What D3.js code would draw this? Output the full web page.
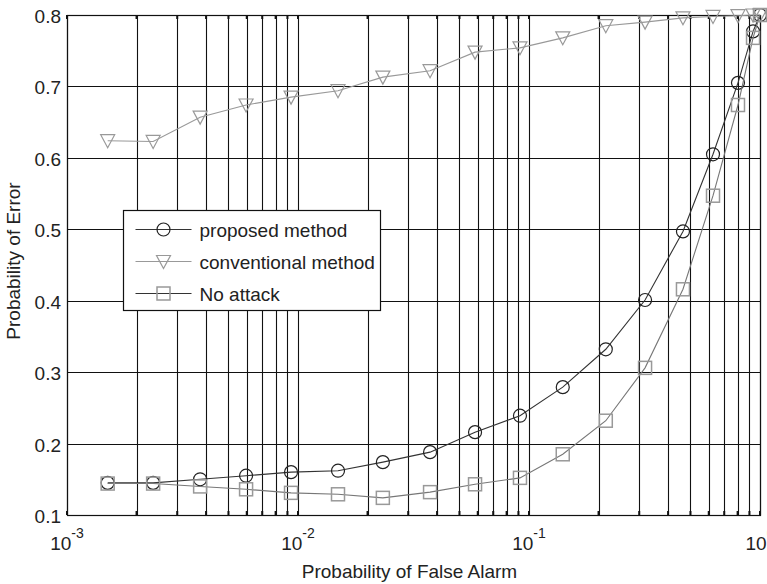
<!DOCTYPE html>
<html>
<head>
<meta charset="utf-8">
<script src="https://cdn.jsdelivr.net/npm/d3@7"></script>
<style>
  body { margin: 0; background: #fff; }
  text { font-family: "Liberation Sans", Arial, sans-serif; fill: #222; }
</style>
</head>
<body>
<div id="chart"></div>
<script>
// Data
var pfa = [0.0015, 0.00236, 0.00377, 0.00596, 0.00933, 0.0149, 0.0233, 0.0373, 0.0584,
           0.0914, 0.140, 0.215, 0.318, 0.464, 0.626, 0.803, 0.933, 1.0];
var proposed = [0.145, 0.145, 0.150, 0.155, 0.160, 0.162, 0.174, 0.188, 0.216,
                0.239, 0.279, 0.332, 0.401, 0.497, 0.605, 0.705, 0.777, 0.800];
var conventional = [0.624, 0.623, 0.657, 0.674, 0.685, 0.694, 0.713, 0.722, 0.748,
                    0.754, 0.768, 0.785, 0.790, 0.796, 0.798, 0.799, 0.800, 0.800];
var noAttack = [0.144, 0.144, 0.140, 0.136, 0.131, 0.129, 0.124, 0.132, 0.143,
                0.152, 0.185, 0.232, 0.306, 0.416, 0.547, 0.674, 0.768, 0.800];
var xDecades = [-3, -2, -1, 0];
var yTicks = [0.1, 0.2, 0.3, 0.4, 0.5, 0.6, 0.7, 0.8];
var seriesNames = ["proposed method", "conventional method", "No attack"];

var W = 767, H = 584;
var margin = { top: 15, right: 7, bottom: 69, left: 67 },
    width = W - margin.left - margin.right,
    height = H - margin.top - margin.bottom;

var svg = d3.select("#chart").append("svg")
    .attr("width", W)
    .attr("height", H);

var g = svg.append("g")
    .attr("transform", "translate(" + margin.left + "," + margin.top + ")");

var x = d3.scaleLog().domain([1e-3, 1]).range([0, width]);
var y = d3.scaleLinear().domain([0.1, 0.8]).range([height, 0]);

// minor + major vertical grid (every 1..9 x decade)
var xGrid = [];
xDecades.slice(0, 3).forEach(function (e) {
    for (var m = 1; m <= 9; m++) xGrid.push(m * Math.pow(10, e));
});
xGrid.push(1);

g.append("g").selectAll("line").data(xGrid).enter().append("line")
    .attr("x1", function (d) { return Math.round(x(d)) + 0.5; })
    .attr("x2", function (d) { return Math.round(x(d)) + 0.5; })
    .attr("y1", 0).attr("y2", height)
    .attr("stroke", "#111").attr("stroke-width", 1.1);

g.append("g").selectAll("line").data(yTicks).enter().append("line")
    .attr("x1", 0).attr("x2", width)
    .attr("y1", function (d) { return Math.round(y(d)) + 0.5; })
    .attr("y2", function (d) { return Math.round(y(d)) + 0.5; })
    .attr("stroke", "#111").attr("stroke-width", 1.1);

// box
g.append("rect")
    .attr("x", 0.5).attr("y", 0.5)
    .attr("width", width).attr("height", height)
    .attr("fill", "none").attr("stroke", "#111").attr("stroke-width", 1.2);

// small inner ticks (MATLAB style)
g.append("g").selectAll("line").data(xGrid).enter().append("line")
    .attr("x1", function (d) { return x(d); }).attr("x2", function (d) { return x(d); })
    .attr("y1", height).attr("y2", height - 4)
    .attr("stroke", "#111").attr("stroke-width", 2);
g.append("g").selectAll("line").data(xGrid).enter().append("line")
    .attr("x1", function (d) { return x(d); }).attr("x2", function (d) { return x(d); })
    .attr("y1", 0).attr("y2", 4)
    .attr("stroke", "#111").attr("stroke-width", 2);

// y tick labels
g.append("g").selectAll("text").data(yTicks).enter().append("text")
    .attr("x", -6)
    .attr("y", function (d) { return y(d) + 8; })
    .attr("text-anchor", "end")
    .attr("font-size", "19px")
    .text(function (d) { return d3.format(".1f")(d); });

// x tick labels 10^e
xDecades.forEach(function (e) {
    var t = g.append("text")
        .attr("x", x(Math.pow(10, e)))
        .attr("y", height + 35)
        .attr("text-anchor", "middle")
        .attr("font-size", "19px");
    t.append("tspan").text("10");
    t.append("tspan").attr("dy", -12).attr("font-size", "14px").text(e === 0 ? "0" : "-" + (-e));
});

// axis titles
svg.append("text")
    .attr("x", margin.left + width / 2 - 4)
    .attr("y", 578)
    .attr("text-anchor", "middle")
    .attr("font-size", "19px")
    .text("Probability of False Alarm");

svg.append("text")
    .attr("transform", "translate(20," + (margin.top + height / 2 - 4) + ") rotate(-90)")
    .attr("text-anchor", "middle")
    .attr("font-size", "19px")
    .text("Probability of Error");

// series
var series = [
    { name: seriesNames[0], values: proposed, line: "#333", mark: "#222", shape: "circle" },
    { name: seriesNames[1], values: conventional, line: "#999", mark: "#999", shape: "triangle" },
    { name: seriesNames[2], values: noAttack, line: "#777", mark: "#999", shape: "square" }
];

function drawMarker(sel, shape, color) {
    if (shape === "circle") {
        sel.append("circle").attr("r", 6.5)
            .attr("fill", "none").attr("stroke", color).attr("stroke-width", 1.2);
    } else if (shape === "triangle") {
        sel.append("path").attr("d", "M-7,-6L7,-6L0,7Z")
            .attr("fill", "none").attr("stroke", color).attr("stroke-width", 1.2);
    } else {
        sel.append("rect").attr("x", -6.5).attr("y", -6.5).attr("width", 13).attr("height", 13)
            .attr("fill", "none").attr("stroke", color).attr("stroke-width", 1.5);
    }
}

var line = d3.line()
    .x(function (d, i) { return x(pfa[i]); })
    .y(function (d) { return y(d); });

series.forEach(function (s) {
    g.append("path")
        .datum(s.values)
        .attr("d", line)
        .attr("fill", "none")
        .attr("stroke", s.line)
        .attr("stroke-width", 1.1);
    g.append("g").selectAll("g").data(s.values).enter().append("g")
        .attr("transform", function (d, i) { return "translate(" + x(pfa[i]) + "," + y(d) + ")"; })
        .each(function () { drawMarker(d3.select(this), s.shape, s.mark); });
});

// legend
var legend = svg.append("g").attr("transform", "translate(123.5,210.5)");
legend.append("rect")
    .attr("width", 257).attr("height", 100)
    .attr("fill", "#fff").attr("stroke", "#111").attr("stroke-width", 1.2);

series.forEach(function (s, i) {
    var row = legend.append("g").attr("transform", "translate(0," + (19 + i * 32) + ")");
    row.append("line")
        .attr("x1", 12).attr("x2", 68)
        .attr("stroke", i === 1 ? "#999" : "#333").attr("stroke-width", 1.1);
    drawMarker(row.append("g").attr("transform", "translate(40,0)"), s.shape, s.mark);
    row.append("text")
        .attr("x", 76).attr("y", 7)
        .attr("font-size", "19px")
        .text(s.name);
});
</script>
</body>
</html>
